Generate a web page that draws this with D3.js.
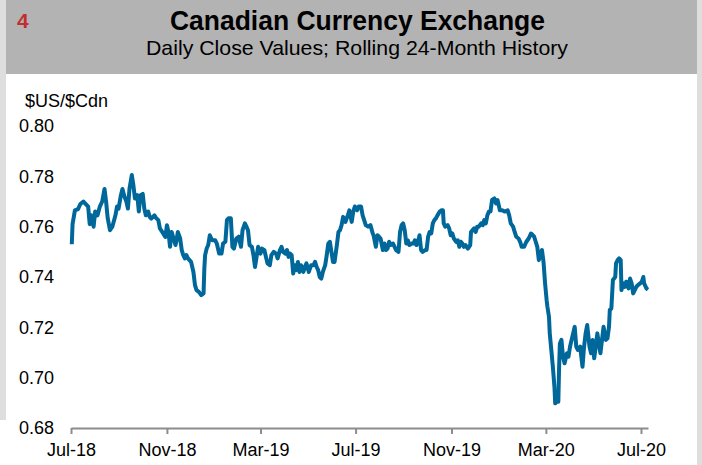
<!DOCTYPE html>
<html><head><meta charset="utf-8">
<script src="https://cdn.jsdelivr.net/npm/d3@7"></script>
<style>
html,body{margin:0;padding:0;background:#fff;}
svg{display:block;font-family:"Liberation Sans",Arial,Helvetica,sans-serif;}
</style></head><body>
<svg id="chart" width="702" height="465"></svg>
<script>
const chartNumber = "4";
const titleText = "Canadian Currency Exchange";
const subtitleText = "Daily Close Values; Rolling 24-Month History";
const yAxisTitle = "$US/$Cdn";
const yTicks = [0.68, 0.70, 0.72, 0.74, 0.76, 0.78, 0.80];
const xTickDates = ["2018-07-01","2018-11-01","2019-03-01","2019-07-01","2019-11-01","2020-03-01","2020-07-01"];
const xDomain = ["2018-07-01","2020-07-10"];

const closeSeries = [
["2018-07-02",0.753],["2018-07-03",0.761],["2018-07-06",0.7665],["2018-07-10",0.767],["2018-07-13",0.769],
["2018-07-17",0.770],["2018-07-20",0.769],["2018-07-23",0.768],["2018-07-25",0.761],["2018-07-27",0.7645],
["2018-07-30",0.760],["2018-08-01",0.766],["2018-08-04",0.7645],["2018-08-07",0.768],["2018-08-10",0.770],
["2018-08-13",0.775],["2018-08-15",0.770],["2018-08-17",0.7635],["2018-08-20",0.7586],["2018-08-23",0.760],
["2018-08-27",0.7645],["2018-08-29",0.768],["2018-08-31",0.7672],["2018-09-03",0.7725],["2018-09-05",0.775],
["2018-09-07",0.7725],["2018-09-10",0.770],["2018-09-12",0.7672],["2018-09-14",0.775],["2018-09-17",0.7805],
["2018-09-19",0.7765],["2018-09-21",0.7712],["2018-09-24",0.7725],["2018-09-26",0.766],["2018-09-28",0.7725],
["2018-10-01",0.773],["2018-10-03",0.7672],["2018-10-05",0.7645],["2018-10-08",0.766],["2018-10-10",0.7639],
["2018-10-12",0.7632],["2018-10-16",0.7645],["2018-10-18",0.7635],["2018-10-21",0.7626],["2018-10-23",0.7593],
["2018-10-26",0.7579],["2018-10-30",0.7559],["2018-11-01",0.7606],["2018-11-03",0.7579],["2018-11-05",0.752],
["2018-11-07",0.7579],["2018-11-09",0.7559],["2018-11-12",0.7527],["2018-11-13",0.754],["2018-11-15",0.7579],
["2018-11-18",0.7553],["2018-11-20",0.7507],["2018-11-22",0.7487],["2018-11-24",0.7474],["2018-11-26",0.7487],
["2018-11-28",0.7474],["2018-12-02",0.746],["2018-12-05",0.742],["2018-12-07",0.7368],["2018-12-09",0.7348],
["2018-12-12",0.7341],["2018-12-15",0.7328],["2018-12-18",0.7335],["2018-12-19",0.7434],["2018-12-20",0.7487],
["2018-12-22",0.7513],["2018-12-24",0.7527],["2018-12-26",0.7566],["2018-12-29",0.7546],["2019-01-02",0.7546],
["2019-01-04",0.7533],["2019-01-07",0.7493],["2019-01-10",0.7493],["2019-01-12",0.7533],["2019-01-15",0.754],
["2019-01-17",0.7626],["2019-01-19",0.7633],["2019-01-22",0.7633],["2019-01-24",0.752],["2019-01-26",0.7513],
["2019-01-29",0.7553],["2019-02-01",0.756],["2019-02-04",0.752],["2019-02-06",0.7586],["2019-02-09",0.7613],
["2019-02-11",0.760],["2019-02-13",0.7586],["2019-02-15",0.7527],["2019-02-18",0.752],["2019-02-20",0.7487],
["2019-02-22",0.744],["2019-02-24",0.748],["2019-02-26",0.752],["2019-03-01",0.7493],["2019-03-03",0.7513],
["2019-03-06",0.7507],["2019-03-08",0.748],["2019-03-10",0.7454],["2019-03-13",0.7447],["2019-03-15",0.7487],
["2019-03-18",0.750],["2019-03-21",0.7493],["2019-03-23",0.7474],["2019-03-26",0.7507],["2019-03-28",0.752],
["2019-03-30",0.750],["2019-04-02",0.7493],["2019-04-04",0.7507],["2019-04-06",0.748],["2019-04-08",0.7493],
["2019-04-10",0.7487],["2019-04-12",0.7414],["2019-04-14",0.7447],["2019-04-16",0.7427],["2019-04-18",0.746],
["2019-04-20",0.742],["2019-04-22",0.7447],["2019-04-25",0.742],["2019-04-27",0.744],["2019-04-29",0.7454],
["2019-05-02",0.742],["2019-05-05",0.7447],["2019-05-08",0.7447],["2019-05-10",0.746],["2019-05-12",0.744],
["2019-05-14",0.7427],["2019-05-16",0.740],["2019-05-18",0.7394],["2019-05-20",0.742],["2019-05-23",0.7447],
["2019-05-25",0.7487],["2019-05-27",0.7533],["2019-05-29",0.754],["2019-05-31",0.750],["2019-06-02",0.746],
["2019-06-04",0.746],["2019-06-07",0.7527],["2019-06-09",0.7579],["2019-06-11",0.7586],["2019-06-13",0.7606],
["2019-06-15",0.7639],["2019-06-18",0.7619],["2019-06-21",0.7645],["2019-06-23",0.7665],["2019-06-26",0.7619],
["2019-06-28",0.766],["2019-06-30",0.768],["2019-07-03",0.7665],["2019-07-05",0.768],["2019-07-08",0.768],
["2019-07-10",0.7645],["2019-07-12",0.7626],["2019-07-14",0.7606],["2019-07-17",0.760],["2019-07-20",0.7606],
["2019-07-23",0.7573],["2019-07-24",0.7566],["2019-07-27",0.752],["2019-07-29",0.7566],["2019-07-31",0.756],
["2019-08-02",0.7553],["2019-08-05",0.7507],["2019-08-07",0.7533],["2019-08-09",0.7507],["2019-08-11",0.7513],
["2019-08-13",0.754],["2019-08-15",0.7527],["2019-08-18",0.7533],["2019-08-22",0.7507],["2019-08-25",0.750],
["2019-08-27",0.7579],["2019-08-29",0.7606],["2019-08-31",0.7613],["2019-09-02",0.7586],["2019-09-04",0.7533],
["2019-09-06",0.7546],["2019-09-08",0.7527],["2019-09-11",0.7533],["2019-09-13",0.7533],["2019-09-15",0.7546],
["2019-09-17",0.7527],["2019-09-19",0.754],["2019-09-21",0.7566],["2019-09-23",0.7507],["2019-09-25",0.750],
["2019-09-28",0.7507],["2019-09-30",0.7507],["2019-10-02",0.756],["2019-10-04",0.7579],["2019-10-06",0.7573],
["2019-10-08",0.7613],["2019-10-10",0.7626],["2019-10-12",0.7633],["2019-10-14",0.7645],["2019-10-17",0.766],
["2019-10-19",0.7665],["2019-10-21",0.7665],["2019-10-22",0.7613],["2019-10-24",0.760],["2019-10-27",0.7606],
["2019-10-29",0.7593],["2019-10-31",0.7566],["2019-11-02",0.7573],["2019-11-04",0.7553],["2019-11-07",0.754],
["2019-11-09",0.7546],["2019-11-11",0.752],["2019-11-13",0.754],["2019-11-15",0.7533],["2019-11-17",0.752],
["2019-11-19",0.7527],["2019-11-22",0.7513],["2019-11-25",0.7527],["2019-11-26",0.7579],["2019-11-28",0.7586],
["2019-11-30",0.7593],["2019-12-02",0.7579],["2019-12-04",0.760],["2019-12-06",0.760],["2019-12-09",0.7613],
["2019-12-11",0.7606],["2019-12-13",0.7626],["2019-12-15",0.7613],["2019-12-17",0.7645],["2019-12-19",0.766],
["2019-12-21",0.766],["2019-12-23",0.7706],["2019-12-26",0.7712],["2019-12-28",0.7692],["2019-12-30",0.7706],
["2020-01-01",0.768],["2020-01-02",0.7665],["2020-01-05",0.7665],["2020-01-08",0.766],["2020-01-12",0.7665],
["2020-01-14",0.7645],["2020-01-16",0.7613],["2020-01-19",0.760],["2020-01-21",0.7579],["2020-01-23",0.756],
["2020-01-26",0.7553],["2020-01-28",0.754],["2020-01-30",0.752],["2020-02-02",0.752],["2020-02-05",0.754],
["2020-02-08",0.7553],["2020-02-11",0.7573],["2020-02-15",0.756],["2020-02-17",0.754],["2020-02-19",0.752],
["2020-02-21",0.7467],["2020-02-23",0.7494],["2020-02-25",0.7507],["2020-02-27",0.746],["2020-02-29",0.7375],
["2020-03-02",0.7308],["2020-03-03",0.7282],["2020-03-05",0.7242],["2020-03-06",0.7176],["2020-03-08",0.711],
["2020-03-10",0.7043],["2020-03-12",0.6964],["2020-03-13",0.6898],["2020-03-15",0.6904],["2020-03-17",0.6904],
["2020-03-18",0.7043],["2020-03-19",0.7136],["2020-03-21",0.715],["2020-03-23",0.7083],["2020-03-25",0.7057],
["2020-03-28",0.7097],["2020-03-30",0.7083],["2020-04-01",0.7123],["2020-04-03",0.715],["2020-04-05",0.7176],
["2020-04-07",0.7202],["2020-04-09",0.7123],["2020-04-11",0.711],["2020-04-14",0.7123],["2020-04-17",0.7043],
["2020-04-19",0.7123],["2020-04-21",0.7176],["2020-04-23",0.7209],["2020-04-26",0.7123],["2020-04-28",0.7097],
["2020-04-30",0.715],["2020-05-02",0.7077],["2020-05-04",0.7123],["2020-05-06",0.7176],["2020-05-08",0.7136],
["2020-05-10",0.7097],["2020-05-12",0.715],["2020-05-14",0.7202],["2020-05-17",0.715],["2020-05-19",0.7156],
["2020-05-21",0.7202],["2020-05-22",0.7269],["2020-05-24",0.7275],["2020-05-26",0.7388],["2020-05-29",0.740],
["2020-05-30",0.7454],["2020-06-01",0.7467],["2020-06-03",0.7474],["2020-06-05",0.7467],["2020-06-06",0.7348],
["2020-06-08",0.7375],["2020-06-10",0.7361],["2020-06-12",0.7381],["2020-06-15",0.7355],["2020-06-17",0.7394],
["2020-06-19",0.7375],["2020-06-21",0.7335],["2020-06-23",0.7348],["2020-06-25",0.7361],["2020-06-27",0.7368],
["2020-06-30",0.7375],["2020-07-02",0.7381],["2020-07-04",0.740],["2020-07-05",0.7375],["2020-07-08",0.7355],
["2020-07-10",0.735]
];

const parse = d3.timeParse("%Y-%m-%d");
const data = closeSeries.map(d => ({date: parse(d[0]), value: d[1]}));

const svg = d3.select("#chart");

// frame and header
svg.append("rect").attr("x",0).attr("y",0).attr("width",6).attr("height",420).attr("fill","#dedede");
svg.append("rect").attr("x",697).attr("y",0).attr("width",5).attr("height",465).attr("fill","#dedede");
svg.append("rect").attr("x",6).attr("y",0).attr("width",691).attr("height",74).attr("fill","#b3b3b3");

svg.append("text").attr("x",17).attr("y",28).attr("font-size",21).attr("font-weight","bold")
  .attr("fill","#c0302f").text(chartNumber);
svg.append("text").attr("x",357.5).attr("y",30).attr("text-anchor","middle")
  .attr("font-size",27).attr("font-weight","bold").attr("fill","#000")
  .attr("textLength",375).attr("lengthAdjust","spacingAndGlyphs").text(titleText);
svg.append("text").attr("x",357).attr("y",55).attr("text-anchor","middle")
  .attr("font-size",21).attr("fill","#000")
  .attr("textLength",422).attr("lengthAdjust","spacingAndGlyphs").text(subtitleText);

const x = d3.scaleTime().domain(xDomain.map(parse)).range([71, 648]);
const y = d3.scaleLinear().domain([0.68, 0.80]).range([428, 126]);

// y axis labels
const yAxis = svg.append("g").attr("transform","translate(54,0)")
  .call(d3.axisLeft(y).tickValues(yTicks).tickFormat(d3.format(".2f")).tickSize(0).tickPadding(0));
yAxis.select(".domain").remove();
yAxis.selectAll("text").attr("font-size",18).attr("fill","#000")
  .attr("font-family",'"Liberation Sans",Arial,sans-serif');

svg.append("text").attr("x",25).attr("y",107).attr("font-size",18).attr("fill","#000").text(yAxisTitle);

// x axis
const xAxis = svg.append("g").attr("transform","translate(0,428)")
  .call(d3.axisBottom(x).tickValues(xTickDates.map(parse)).tickFormat(d3.timeFormat("%b-%y"))
    .tickSizeInner(6).tickSizeOuter(0).tickPadding(9));
xAxis.select(".domain").attr("stroke","#8c8c8c").attr("stroke-width",2);
xAxis.selectAll(".tick line").attr("stroke","#8c8c8c").attr("stroke-width",2);
xAxis.selectAll("text").attr("font-size",18).attr("fill","#000")
  .attr("font-family",'"Liberation Sans",Arial,sans-serif');

// line
const line = d3.line().x(d => x(d.date)).y(d => y(d.value));
svg.append("path").datum(data).attr("d",line).attr("fill","none")
  .attr("stroke","#00679b").attr("stroke-width",4)
  .attr("stroke-linejoin","round").attr("stroke-linecap","butt");
</script>
</body></html>
